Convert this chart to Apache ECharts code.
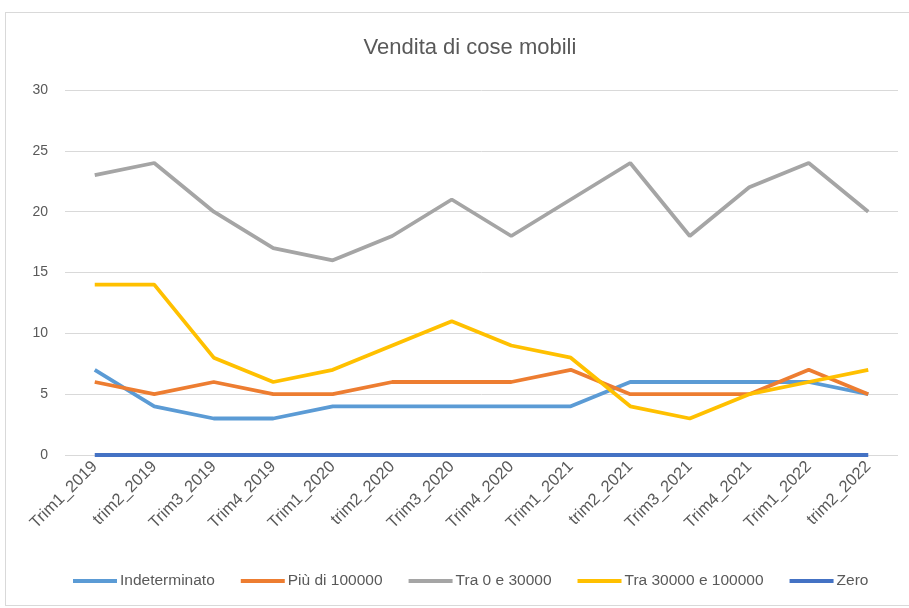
<!DOCTYPE html>
<html>
<head>
<meta charset="utf-8">
<script src="https://cdn.jsdelivr.net/npm/echarts@6/dist/echarts.min.js"></script>
<style>
  html, body {margin: 0; padding: 0; background: #fff;}
  #main {width: 909px; height: 608px;}
  .frame {position: absolute; left: 5px; top: 12px; width: 910px; height: 592px; border: 1px solid #d9d9d9; pointer-events: none;}
</style>
</head>
<body>
<div id="main"></div>
<div class="frame"></div>
<script>
const categories = ['Trim1_2019', 'trim2_2019', 'Trim3_2019', 'Trim4_2019', 'Trim1_2020', 'trim2_2020', 'Trim3_2020',
    'Trim4_2020', 'Trim1_2021', 'trim2_2021', 'Trim3_2021', 'Trim4_2021', 'Trim1_2022', 'trim2_2022'];
const indeterminato = [7, 4, 3, 3, 4, 4, 4, 4, 4, 6, 6, 6, 6, 5];
const piuDi100000 = [6, 5, 6, 5, 5, 6, 6, 6, 7, 5, 5, 5, 7, 5];
const tra0e30000 = [23, 24, 20, 17, 16, 18, 21, 18, 21, 24, 18, 22, 24, 20];
const tra30000e100000 = [14, 14, 8, 6, 7, 9, 11, 9, 8, 4, 3, 5, 6, 7];
const zero = [0, 0, 0, 0, 0, 0, 0, 0, 0, 0, 0, 0, 0, 0];

const chartDom = document.getElementById('main');
const myChart = echarts.init(chartDom);
const font = '"Liberation Sans", sans-serif';

const line = (name, data, color) => ({
    name: name,
    type: 'line',
    data: data,
    color: color,
    symbol: 'none',
    lineStyle: {width: 3.8, color: color},
    animation: false
});

const option = {
    title: {
        text: 'Vendita di cose mobili',
        left: 465,
        textAlign: 'center',
        top: 32,
        textStyle: {fontFamily: font, fontSize: 22, fontWeight: 'normal', color: '#595959'}
    },
    legend: {
        bottom: 14,
        left: 68,
        itemWidth: 44,
        itemHeight: 4,
        itemGap: 26,
        icon: 'rect',
        textStyle: {fontFamily: font, fontSize: 15.5, color: '#595959', padding: [0, 0, 0, -2]},
        data: ['Indeterminato', 'Più di 100000', 'Tra 0 e 30000', 'Tra 30000 e 100000', 'Zero']
    },
    grid: {
        left: 65,
        right: 11,
        top: 90,
        bottom: 153
    },
    xAxis: {
        type: 'category',
        data: categories,
        axisTick: {show: false},
        axisLine: {show: false},
        axisLabel: {
            rotate: 45,
            margin: 9,
            fontFamily: font,
            fontSize: 16.5,
            color: '#595959'
        }
    },
    yAxis: {
        type: 'value',
        min: 0,
        max: 30,
        interval: 5,
        axisLine: {show: false},
        axisTick: {show: false},
        axisLabel: {fontFamily: font, fontSize: 14, color: '#595959', margin: 17},
        splitLine: {lineStyle: {color: '#d9d9d9', width: 1}}
    },
    series: [
        line('Indeterminato', indeterminato, '#5B9BD5'),
        line('Più di 100000', piuDi100000, '#ED7D31'),
        line('Tra 0 e 30000', tra0e30000, '#A5A5A5'),
        line('Tra 30000 e 100000', tra30000e100000, '#FFC000'),
        line('Zero', zero, '#4472C4')
    ]
};

myChart.setOption(option);
</script>
</body>
</html>
